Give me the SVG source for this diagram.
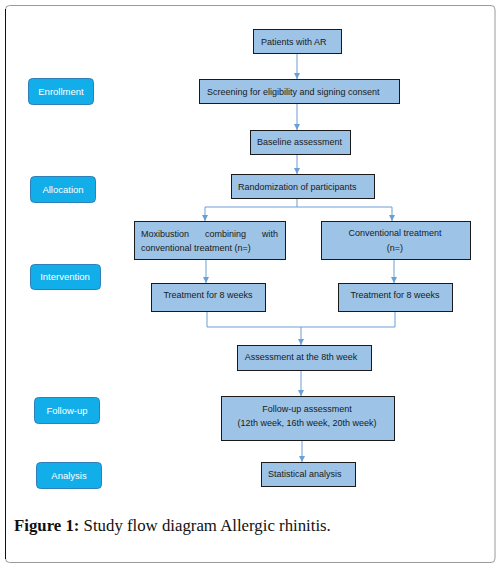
<svg xmlns="http://www.w3.org/2000/svg" width="502" height="565" viewBox="0 0 502 565">
<defs>
<style>
.box{fill:#9dc3e6;stroke:#1a1a1a;stroke-width:1}
.pill{fill:#12aeea;stroke:#2f7fb8;stroke-width:1}
.t{font-family:"Liberation Sans","DejaVu Sans",sans-serif;font-size:9px;fill:#1a1a1a}
.pt{font-family:"Liberation Sans","DejaVu Sans",sans-serif;font-size:9.5px;fill:#ffffff;text-anchor:middle}
.c{fill:none;stroke:#6a9fd4;stroke-width:1}
.cap{font-family:"Liberation Serif","DejaVu Serif",serif;font-size:16.8px;fill:#111}
</style>
<marker id="ah" viewBox="0 0 6 6" refX="6" refY="3" markerWidth="6" markerHeight="6" orient="auto" markerUnits="userSpaceOnUse">
<path d="M0,0 L6,3 L0,6 z" fill="#6a9fd4"/>
</marker>
</defs>
<rect x="0" y="0" width="502" height="565" fill="#ffffff"/>
<rect x="5.5" y="5.5" width="489.5" height="557" rx="4" fill="none" stroke="#9a9a9a" stroke-width="1"/>
<line x1="5.5" y1="9" x2="5.5" y2="559" stroke="#111" stroke-width="1"/>

<g id="connectors">
<line class="c" x1="297" y1="53" x2="297" y2="79" marker-end="url(#ah)"/>
<line class="c" x1="297" y1="103" x2="297" y2="130" marker-end="url(#ah)"/>
<line class="c" x1="297" y1="154" x2="297" y2="174" marker-end="url(#ah)"/>
<path class="c" d="M297,198 V207 M205,207 H392"/>
<line class="c" x1="205" y1="207" x2="205" y2="221" marker-end="url(#ah)"/>
<line class="c" x1="392" y1="207" x2="392" y2="221" marker-end="url(#ah)"/>
<line class="c" x1="206" y1="259" x2="206" y2="283" marker-end="url(#ah)"/>
<line class="c" x1="394" y1="259" x2="394" y2="283" marker-end="url(#ah)"/>
<path class="c" d="M207,311 V327 H395 V311"/>
<line class="c" x1="301" y1="327" x2="301" y2="345" marker-end="url(#ah)"/>
<line class="c" x1="301" y1="370" x2="301" y2="396" marker-end="url(#ah)"/>
<line class="c" x1="302" y1="440" x2="302" y2="462" marker-end="url(#ah)"/>
</g>

<g id="patients"><rect class="box" x="253.5" y="29.5" width="88" height="24"/><text class="t" x="261" y="44.5">Patients with  AR</text></g>
<g id="screening"><rect class="box" x="199.5" y="79.5" width="200" height="24"/><text class="t" x="207" y="94.5">Screening for eligibility and signing consent</text></g>
<g id="baseline"><rect class="box" x="250.5" y="130.5" width="100" height="24"/><text class="t" x="257" y="144.5">Baseline assessment</text></g>
<g id="randomization"><rect class="box" x="231.5" y="174.5" width="143" height="24"/><text class="t" x="238" y="189.5">Randomization of participants</text></g>
<g id="moxibustion"><rect class="box" x="134.5" y="221.5" width="151" height="38"/>
<text class="t" x="141" y="236.5">Moxibustion</text><text class="t" x="205" y="236.5">combining</text><text class="t" x="278" y="236.5" text-anchor="end">with</text>
<text class="t" x="141" y="250.5">conventional treatment (n=)</text></g>
<g id="conventional"><rect class="box" x="321.5" y="221.5" width="149" height="38"/>
<text class="t" x="395" y="235.5" text-anchor="middle">Conventional treatment</text><text class="t" x="395" y="250.5" text-anchor="middle">(n=)</text></g>
<g id="treat-left"><rect class="box" x="151.5" y="283.5" width="114" height="28"/><text class="t" x="208" y="297.5" text-anchor="middle">Treatment for 8 weeks</text></g>
<g id="treat-right"><rect class="box" x="338.5" y="283.5" width="114" height="28"/><text class="t" x="395" y="297.5" text-anchor="middle">Treatment for 8 weeks</text></g>
<g id="assess8"><rect class="box" x="237.5" y="345.5" width="134" height="25"/><text class="t" x="301" y="359.5" text-anchor="middle">Assessment at the 8th week</text></g>
<g id="followup"><rect class="box" x="221.5" y="396.5" width="173" height="44"/>
<text class="t" x="307" y="411.5" text-anchor="middle">Follow-up assessment</text><text class="t" x="307" y="425.5" text-anchor="middle">(12th week, 16th week, 20th week)</text></g>
<g id="statistical"><rect class="box" x="261.5" y="462.5" width="94" height="24"/><text class="t" x="268" y="476.5">Statistical analysis</text></g>

<g id="enrollment"><rect class="pill" x="28.5" y="78.5" width="65" height="26" rx="4"/><text class="pt" x="61" y="94.5">Enrollment</text></g>
<g id="allocation"><rect class="pill" x="30.5" y="176.5" width="65" height="26" rx="4"/><text class="pt" x="63" y="192.5">Allocation</text></g>
<g id="intervention"><rect class="pill" x="30.5" y="264.5" width="70" height="25" rx="4"/><text class="pt" x="65" y="279.5">Intervention</text></g>
<g id="follow-up-label"><rect class="pill" x="34.5" y="397.5" width="65" height="26" rx="4"/><text class="pt" x="67" y="413.5">Follow-up</text></g>
<g id="analysis"><rect class="pill" x="36.5" y="462.5" width="65" height="26" rx="4"/><text class="pt" x="69" y="478.5">Analysis</text></g>

<text class="cap" x="14" y="531"><tspan font-weight="bold">Figure 1:</tspan> Study flow diagram Allergic rhinitis.</text>
</svg>
